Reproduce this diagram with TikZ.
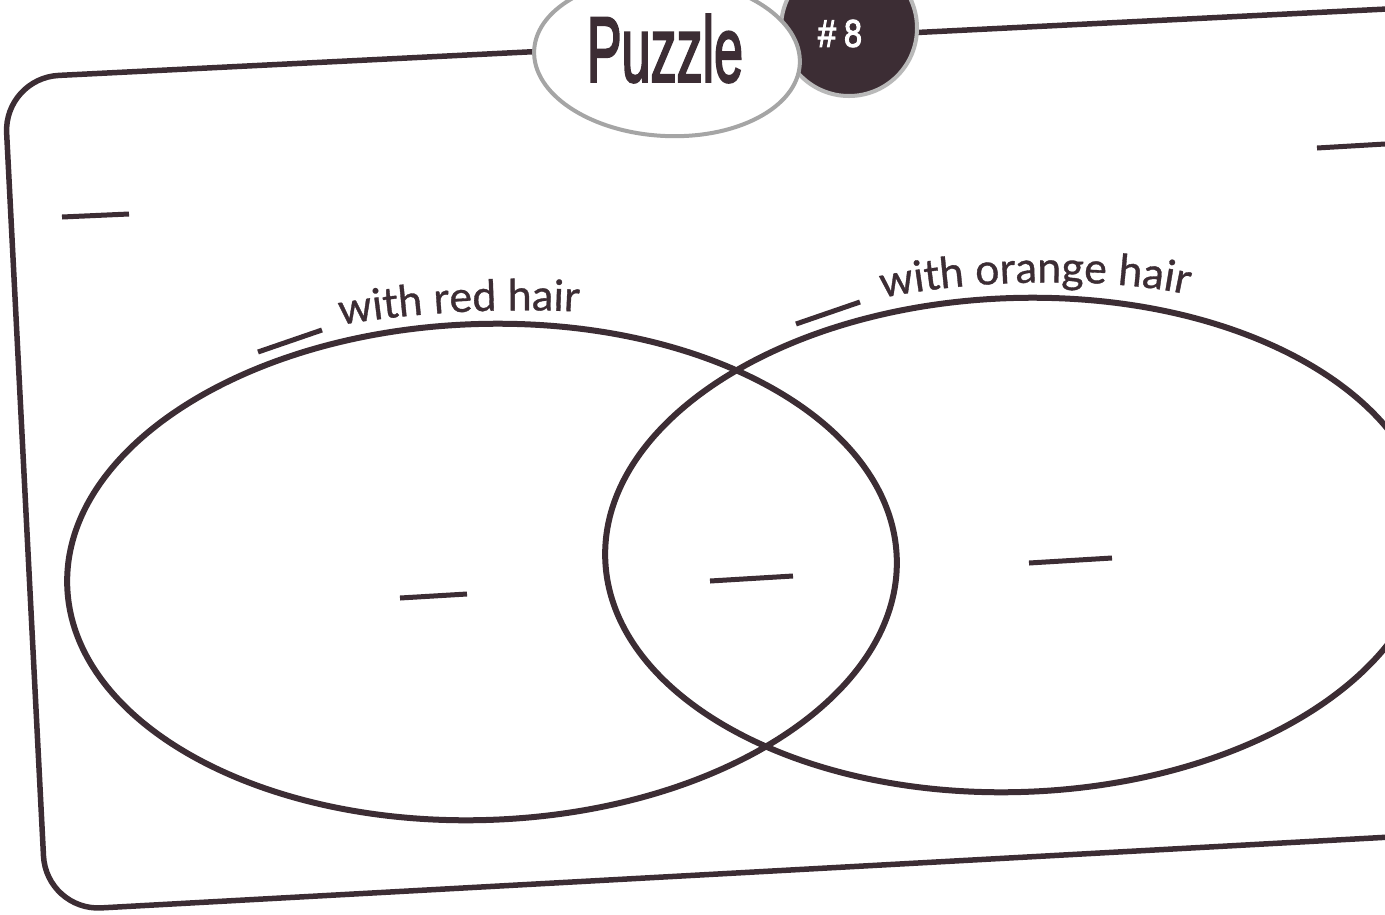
\documentclass[tikz,border=0pt]{standalone}
\usepackage{fontspec}
\usepackage{graphicx}
\usetikzlibrary{shapes.geometric,decorations.text}
\newfontfamily\labfont{Lato}[FakeBold=0.8]
\newfontfamily\headfont{Liberation Sans}[FakeBold=3]
\definecolor{ink}{RGB}{60,45,52}
\definecolor{ringgray}{RGB}{185,185,185}
\definecolor{ovalgray}{RGB}{165,165,165}
\newcommand{\labstyle}{\labfont\fontsize{43pt}{43pt}\selectfont\color{ink}}
\begin{document}
\begin{tikzpicture}[x=1pt,y=-1pt,
  framestyle/.style={draw=ink, line width=5.5pt, rounded corners=55pt},
  venn/.style={ellipse, draw=ink, line width=6pt, inner sep=0pt},
  blank/.style={draw=ink, line width=5pt},
  curvedlabel/.style={decorate, decoration={text along path, text align=center, text={#1}}}]
\useasboundingbox (0,0) rectangle (1385,914);
\fill[white] (0,0) rectangle (1385,914);

% frame
\draw[framestyle] (1420,7.35) -- (3.85,78.16) -- (46.3,910.9) -- (1420,835.4);

% header
\node[circle, fill=ink, draw=ringgray, line width=4pt, minimum size=136pt, inner sep=0pt] (badge) at (849,28) {};
\node[ellipse, draw=ovalgray, fill=white, line width=4pt, minimum width=266pt, minimum height=158pt, inner sep=0pt, rotate=-3] (oval) at (667,57) {};
\node[inner sep=0pt, text=ink] (title) at (665,48.5) {\resizebox{156pt}{67pt}{\headfont Puzzle}};
\node[inner sep=0pt, text=white] (num) at (840,33.5) {\resizebox{44pt}{27pt}{\headfont\#\kern0.25em 8}};

% Venn diagram
\node[venn, minimum width=830pt, minimum height=496pt, rotate=2] (redset) at (482,572) {};
\node[venn, minimum width=824pt, minimum height=494pt, rotate=2] (orangeset) at (1017,545) {};

% labels
\path[curvedlabel={|\labstyle|with red hair}] (320,329) .. controls (395,313) and (510,306) .. (600,313);
\path[curvedlabel={|\labstyle|with orange hair}] (865,302) .. controls (955,279) and (1120,274) .. (1205,299);

% blanks
\draw[blank] (62,217) -- (129,214);
\draw[blank] (1317,148) -- (1385,144);
\draw[blank] (258,352) -- (322,330);
\draw[blank] (796,324) -- (860,302);
\draw[blank] (400,598) -- (467,594);
\draw[blank] (710,581) -- (793,576);
\draw[blank] (1029,563) -- (1112,558);
\end{tikzpicture}
\end{document}
